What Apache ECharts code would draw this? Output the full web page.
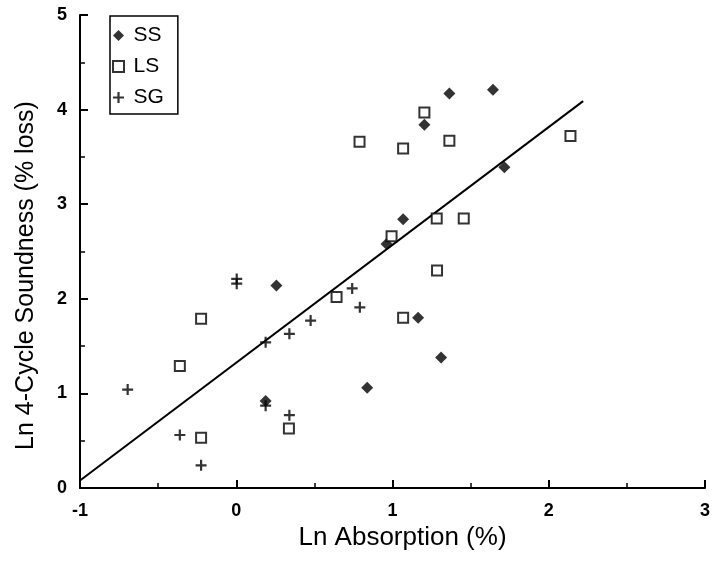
<!DOCTYPE html>
<html>
<head>
<meta charset="utf-8">
<script src="https://cdn.jsdelivr.net/npm/echarts@6/dist/echarts.min.js"></script>
<style>html,body{margin:0;padding:0;background:#fff}#c{width:724px;height:563px}</style>
</head>
<body>
<div id="c"></div>
<script>
const xTicks = [-1, 0, 1, 2, 3];
const yTicks = [0, 1, 2, 3, 4, 5];
const ssData = [[0.257,2.14],[0.188,0.92],[0.838,1.06],[0.962,2.58],[1.068,2.84],[1.164,1.80],[1.204,3.84],[1.364,4.17],[1.643,4.21],[1.716,3.39],[1.311,1.38]];
const lsData = [[1.204,3.97],[0.789,3.66],[1.068,3.59],[1.364,3.67],[2.139,3.72],[1.283,2.85],[1.456,2.85],[0.994,2.66],[-0.225,1.79],[-0.361,1.29],[-0.225,0.53],[0.337,0.63],[0.642,2.02],[1.285,2.30],[1.068,1.80]];
const sgData = [[-0.695,1.04],[0.003,2.21],[0.003,2.16],[0.188,1.54],[0.34,1.63],[0.476,1.77],[-0.361,0.56],[-0.225,0.24],[0.188,0.87],[0.34,0.77],[0.742,2.11],[0.791,1.91]];
const fitLine = [[-1,0.08],[2.22,4.09]];

const FONT = '"Liberation Sans", Arial, Helvetica, sans-serif';
const diamond = 'path://M0,-1L1,0L0,1L-1,0Z';
const plus = 'path://M-0.2,-1H0.2V-0.2H1V0.2H0.2V1H-0.2V0.2H-1V-0.2H-0.2Z';
const square = 'path://M0,0H10V10H0Z';

const chart = echarts.init(document.getElementById('c'), null, {renderer: 'canvas'});
chart.setOption({
  backgroundColor: '#fff',
  animation: false,
  grid: {left: 80, right: 19, top: 15, bottom: 75, containLabel: false},
  legend: {
    orient: 'vertical', left: 110, top: 16,
    data: ['SS', 'LS', 'SG'],
    borderColor: '#000', borderWidth: 1.5,
    padding: [9, 14, 6, 2],
    itemGap: 10, itemWidth: 20, itemHeight: 11, itemTextGap: 7,
    symbolKeepAspect: true,
    textStyle: {fontFamily: FONT, fontSize: 21, color: '#000', lineHeight: 20}
  },
  xAxis: {
    type: 'value', min: xTicks[0], max: xTicks[xTicks.length - 1], interval: 1,
    name: 'Ln Absorption (%)', nameLocation: 'middle', nameGap: 30,
    nameTextStyle: {fontFamily: FONT, fontSize: 26, color: '#000', padding: [0, 0, 0, 20]},
    axisLine: {show: true, onZero: false, lineStyle: {color: '#000', width: 2}},
    axisTick: {show: true, inside: true, length: 8, lineStyle: {color: '#000', width: 2}},
    minorTick: {show: true, splitNumber: 2, length: 5, lineStyle: {color: '#000', width: 1.5}},
    axisLabel: {fontFamily: FONT, fontSize: 18, fontWeight: 'bold', color: '#000', margin: 14},
    splitLine: {show: false}
  },
  yAxis: {
    type: 'value', min: yTicks[0], max: yTicks[yTicks.length - 1], interval: 1,
    name: 'Ln 4-Cycle Soundness (% loss)', nameLocation: 'middle', nameGap: 41,
    nameTextStyle: {fontFamily: FONT, fontSize: 25, color: '#000', padding: [0, 48, 0, 0]},
    axisLine: {show: true, onZero: false, lineStyle: {color: '#000', width: 2}},
    axisTick: {show: true, inside: true, length: 8, lineStyle: {color: '#000', width: 2}},
    minorTick: {show: true, splitNumber: 2, length: 5, lineStyle: {color: '#000', width: 1.5}},
    axisLabel: {fontFamily: FONT, fontSize: 18, fontWeight: 'bold', color: '#000', margin: 13},
    splitLine: {show: false}
  },
  series: [
    {name: 'fit', type: 'line', data: fitLine, showSymbol: false, symbol: 'none',
     lineStyle: {color: '#000', width: 2}, z: 1, silent: true},
    {name: 'SS', type: 'scatter', data: ssData, symbol: diamond, symbolSize: 12, symbolKeepAspect: true,
     itemStyle: {color: '#000'}, z: 3},
    {name: 'LS', type: 'scatter', data: lsData, symbol: square, symbolSize: 10, symbolKeepAspect: true,
     itemStyle: {color: '#fff', borderColor: '#000', borderWidth: 2}, z: 3},
    {name: 'SG', type: 'scatter', data: sgData, symbol: plus, symbolSize: 11, symbolKeepAspect: true,
     itemStyle: {color: '#000'}, z: 3}
  ]
});
</script>
</body>
</html>
